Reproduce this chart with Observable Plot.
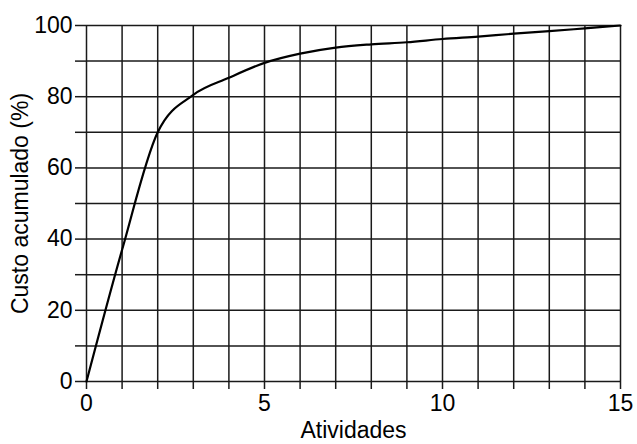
<!DOCTYPE html>
<html><head><meta charset="utf-8">
<script src="https://cdn.jsdelivr.net/npm/d3@7"></script>
<script src="https://cdn.jsdelivr.net/npm/@observablehq/plot@0.6"></script>
<style>body{margin:0;background:#fff}</style>
</head><body><div id="chart"></div>
<script>
const atividades = [0,1,2,3,4,5,6,7,8,9,10,11,12,13,14,15];
const custoAcumulado = [0,37,70,80.5,85.3,89.5,92.1,93.8,94.7,95.3,96.2,96.9,97.7,98.4,99.2,100];
const xTicks = d3.range(0,16,1);
const yTicks = d3.range(0,101,10);
const xLabels = [0,5,10,15];
const yLabels = [0,20,40,60,80,100];
const data = atividades.map((a,i)=>({a, c: custoAcumulado[i]}));

const chart = Plot.plot({
  width: 637, height: 444,
  marginLeft: 86, marginRight: 17, marginTop: 25, marginBottom: 63,
  style: {fontFamily: "Liberation Sans, Arial, sans-serif", fontSize: "23px", color: "#000", background: "#fff"},
  x: {domain: [0,15]},
  y: {domain: [0,100]},
  marks: [
    Plot.gridX(xTicks, {stroke: "#1a1a1a", strokeOpacity: 1, strokeWidth: 1.5}),
    Plot.gridY(yTicks, {stroke: "#1a1a1a", strokeOpacity: 1, strokeWidth: 1.5}),
    Plot.axisX(xTicks, {tickSize: 8, tickPadding: 5, stroke: "#1a1a1a", strokeWidth: 1.5,
      tickFormat: d => xLabels.includes(d) ? String(d) : "",
      label: "Atividades", labelAnchor: "center", labelOffset: 56, labelArrow: "none"}),
    Plot.axisY(yTicks, {tickSize: 11, tickPadding: 3, stroke: "#1a1a1a", strokeWidth: 1.5,
      tickFormat: d => yLabels.includes(d) ? String(d) : "",
      label: "Custo acumulado (%)", labelAnchor: "center", labelOffset: 75, labelArrow: "none"}),
    Plot.line(data, {x: "a", y: "c", stroke: "#000", strokeWidth: 2.2, curve: "monotone-x"})
  ]
});
document.getElementById("chart").appendChild(chart);
</script>
</body></html>
